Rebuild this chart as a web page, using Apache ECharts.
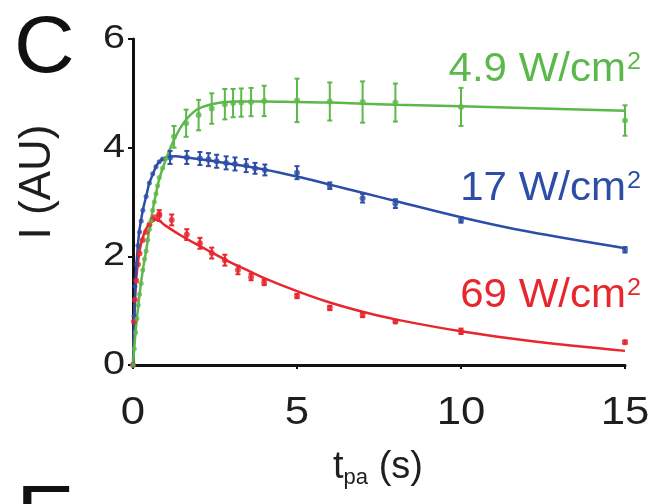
<!DOCTYPE html>
<html>
<head>
<meta charset="utf-8">
<script src="https://cdn.jsdelivr.net/npm/echarts@6/dist/echarts.min.js"></script>
<style>html,body{margin:0;padding:0;background:#fff}#c{width:652px;height:504px}</style>
</head>
<body>
<div id="c"></div>
<script>
// ---- data ----
const xTicks = [0, 5, 10, 15];
const yTicks = [0, 2, 4, 6];

// fitted curves
const greenFitT = [0, 0.05, 0.1, 0.2, 0.3, 0.4, 0.5, 0.6, 0.7, 0.8, 1.0, 1.2, 1.4, 1.6, 1.8, 2.0, 2.4, 2.8, 3.2, 4, 5, 6, 7, 8, 10, 15];
const greenFitY = [0, 0.4, 0.75, 1.3, 1.75, 2.1, 2.5, 2.85, 3.15, 3.42, 3.78, 4.08, 4.32, 4.5, 4.63, 4.72, 4.8, 4.84, 4.85, 4.85, 4.84, 4.83, 4.81, 4.79, 4.76, 4.68];
const blueFitT = [0, 0.05, 0.1, 0.15, 0.2, 0.3, 0.4, 0.5, 0.6, 0.7, 0.8, 1.0, 1.3, 1.6, 2, 3, 4, 5, 6, 7, 8, 10, 12, 15];
const blueFitY = [0, 1.1, 1.8, 2.2, 2.5, 2.85, 3.1, 3.35, 3.5, 3.65, 3.74, 3.82, 3.84, 3.82, 3.79, 3.7, 3.6, 3.47, 3.32, 3.17, 3.02, 2.72, 2.46, 2.15];
const redFitT = [0, 0.05, 0.1, 0.2, 0.3, 0.4, 0.5, 0.6, 0.7, 1, 1.5, 2, 2.5, 3, 3.5, 4, 5, 6, 7, 8, 10, 12, 15];
const redFitY = [0, 1.0, 1.6, 2.1, 2.35, 2.5, 2.6, 2.66, 2.68, 2.56, 2.37, 2.2, 2.04, 1.88, 1.74, 1.6, 1.36, 1.15, 0.98, 0.84, 0.62, 0.45, 0.26];

// early dense measurements
const greenEarlyT = [0, 0.04, 0.08, 0.12, 0.16, 0.2, 0.25, 0.3, 0.35, 0.4, 0.45, 0.5, 0.55, 0.6, 0.65, 0.7, 0.75, 0.8, 0.9, 1.0];
const greenEarlyY = [0, 0.3, 0.6, 0.85, 1.1, 1.3, 1.5, 1.75, 1.95, 2.1, 2.3, 2.5, 2.65, 2.85, 3.0, 3.15, 3.3, 3.45, 3.62, 3.8];
const blueEarlyT = [0, 0.03, 0.06, 0.1, 0.15, 0.2, 0.25, 0.3, 0.4, 0.5, 0.6, 0.7, 0.8, 0.9];
const blueEarlyY = [0, 0.9, 1.45, 1.85, 2.2, 2.45, 2.65, 2.85, 3.1, 3.35, 3.52, 3.65, 3.74, 3.79];
const redEarlyT = [0, 0.03, 0.06, 0.1, 0.15, 0.2, 0.3, 0.4, 0.5, 0.6, 0.67, 0.8];
const redEarlyY = [0, 0.8, 1.2, 1.55, 1.85, 2.05, 2.3, 2.45, 2.58, 2.68, 2.72, 2.78];

// later measurements with error bars
const greenT = [1.25, 1.62, 2.0, 2.4, 2.8, 3.05, 3.3, 3.6, 4.0, 5, 6, 7, 8, 10, 15];
const greenY = [4.2, 4.45, 4.6, 4.72, 4.8, 4.82, 4.83, 4.84, 4.86, 4.87, 4.85, 4.84, 4.83, 4.75, 4.5];
const greenErr = [0.2, 0.25, 0.28, 0.28, 0.28, 0.26, 0.26, 0.26, 0.28, 0.4, 0.35, 0.38, 0.35, 0.35, 0.28];
const blueT = [1.13, 1.64, 2.04, 2.3, 2.55, 2.84, 3.11, 3.45, 3.72, 4.02, 5, 6, 7, 8, 10, 15];
const blueY = [3.82, 3.82, 3.8, 3.78, 3.75, 3.72, 3.7, 3.67, 3.62, 3.59, 3.54, 3.3, 3.07, 2.97, 2.67, 2.12];
const blueErr = [0.12, 0.12, 0.12, 0.12, 0.12, 0.12, 0.12, 0.12, 0.1, 0.1, 0.12, 0.06, 0.08, 0.08, 0.05, 0.05];
const redT = [0.8, 1.18, 1.64, 2.04, 2.4, 2.8, 3.2, 3.6, 4.0, 5, 6, 7, 8, 10, 15];
const redY = [2.75, 2.67, 2.4, 2.24, 2.06, 1.93, 1.75, 1.62, 1.52, 1.27, 1.05, 0.92, 0.8, 0.62, 0.42];
const redErr = [0.1, 0.1, 0.1, 0.1, 0.1, 0.1, 0.08, 0.06, 0.05, 0.04, 0.04, 0.04, 0.03, 0.05, 0.03];

const GREEN = '#5cb84a', BLUE = '#2d4ea6', RED = '#e8262e';
const TXT = '#1e1e1e';
const FONT = '"Liberation Sans", Arial, sans-serif';

function zip(a, b) { return a.map((v, i) => [v, b[i]]); }
function zip3(a, b, c) { return a.map((v, i) => [v, b[i], c[i]]); }

function errSeries(t, y, e, color) {
  return {
    type: 'custom', z: 4,
    data: zip3(t, y, e),
    renderItem: function (params, api) {
      const x = api.value(0), v = api.value(1), er = api.value(2);
      const p1 = api.coord([x, v - er]);
      const p2 = api.coord([x, v + er]);
      const st = { stroke: color, lineWidth: 2 };
      return {
        type: 'group',
        children: [
          { type: 'line', shape: { x1: p1[0], y1: p1[1], x2: p2[0], y2: p2[1] }, style: st },
          { type: 'line', shape: { x1: p1[0] - 2.5, y1: p1[1], x2: p1[0] + 2.5, y2: p1[1] }, style: st },
          { type: 'line', shape: { x1: p2[0] - 2.5, y1: p2[1], x2: p2[0] + 2.5, y2: p2[1] }, style: st }
        ]
      };
    }
  };
}
function fitSeries(t, y, color, z) {
  return { type: 'line', data: zip(t, y), smooth: 0.4, showSymbol: false, z: z,
    lineStyle: { color: color, width: 2.5 }, silent: true };
}
function dotSeries(t, y, color, size, z) {
  return { type: 'scatter', data: zip(t, y), symbol: 'circle', symbolSize: size, z: z,
    itemStyle: { color: color } };
}

const chart = echarts.init(document.getElementById('c'), null, { renderer: 'canvas' });
chart.setOption({
  animation: false,
  backgroundColor: '#fff',
  grid: { left: 133, right: 27, top: 39, bottom: 139, containLabel: false },
  xAxis: {
    type: 'value', min: 0, max: 15, interval: 5,
    axisLine: { show: true, onZero: false, lineStyle: { color: '#111', width: 3 } },
    axisTick: { show: true, inside: false, length: 4, lineStyle: { color: '#111', width: 2 } },
    axisLabel: { show: false },
    splitLine: { show: false }
  },
  yAxis: {
    type: 'value', min: 0, max: 6, interval: 2,
    axisLine: { show: true, onZero: false, lineStyle: { color: '#111', width: 3 } },
    axisTick: { show: true, inside: false, length: 5, lineStyle: { color: '#111', width: 2 } },
    axisLabel: { show: false },
    splitLine: { show: false }
  },
  series: [
    fitSeries(redFitT, redFitY, RED, 2),
    fitSeries(blueFitT, blueFitY, BLUE, 2),
    fitSeries(greenFitT, greenFitY, GREEN, 2),
    errSeries(redT, redY, redErr, RED),
    errSeries(blueT, blueY, blueErr, BLUE),
    errSeries(greenT, greenY, greenErr, GREEN),
    dotSeries(redT, redY, RED, 6, 5),
    dotSeries(blueT, blueY, BLUE, 6, 5),
    dotSeries(greenT, greenY, GREEN, 6, 5),
    dotSeries(redEarlyT, redEarlyY, RED, 6, 6),
    dotSeries(blueEarlyT, blueEarlyY, BLUE, 5, 6),
    dotSeries(greenEarlyT, greenEarlyY, GREEN, 5, 7)
  ]
});

// tick labels placed through the axis scales
const graphics = [];
xTicks.forEach(v => {
  const p = chart.convertToPixel({ gridIndex: 0 }, [v, 0]);
  graphics.push({ type: 'text', x: p[0], y: p[1] + 49, scaleX: 1.15,
    style: { text: String(v), font: '38px ' + FONT, fill: TXT, align: 'center', verticalAlign: 'middle' } });
});
yTicks.forEach(v => {
  const p = chart.convertToPixel({ gridIndex: 0 }, [0, v]);
  graphics.push({ type: 'text', x: p[0] - 8, y: p[1], scaleX: 1.2,
    style: { text: String(v), font: '33px ' + FONT, fill: TXT, align: 'right', verticalAlign: 'middle' } });
});

function powerLabel(txt, y, color) {
  return { type: 'text', x: 641, y: y, scaleX: 1.05, style: {
    text: '{m|' + txt + ' W/cm}{sup|2}', align: 'right', verticalAlign: 'middle',
    rich: {
      m: { fontSize: 40, fontFamily: FONT, fill: color },
      sup: { fontSize: 24, fontFamily: FONT, fill: color, padding: [0, 0, 16, 1] }
    } } };
}

graphics.push(
  { type: 'text', x: 14, y: 50, scaleX: 1.05, style: { text: 'C', font: '80px ' + FONT, fill: '#111', verticalAlign: 'middle' } },
  { type: 'text', x: 16, y: 519, scaleX: 1.1, style: { text: 'E', font: '80px ' + FONT, fill: '#111', verticalAlign: 'middle' } },
  { type: 'text', x: 38, y: 182, rotation: Math.PI / 2, style: { text: 'I (AU)', font: '44px ' + FONT, fill: TXT, align: 'center', verticalAlign: 'middle' } },
  { type: 'text', x: 378, y: 468, style: {
      text: '{t|t}{s|pa}{t| (s)}', align: 'center', verticalAlign: 'middle',
      rich: {
        t: { fontSize: 38, fontFamily: FONT, fill: TXT },
        s: { fontSize: 22, fontFamily: FONT, fill: TXT, padding: [20, 0, 0, 0] }
      } } },
  powerLabel('4.9', 70, GREEN),
  powerLabel('17', 189, BLUE),
  powerLabel('69', 296, RED)
);
chart.setOption({ graphic: graphics });
</script>
</body>
</html>
